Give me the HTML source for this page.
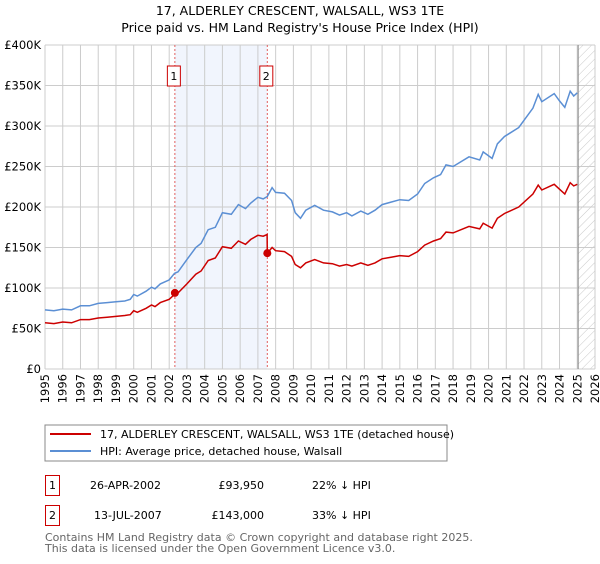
<!DOCTYPE html>
<html><head><meta charset="utf-8"><style>
body{margin:0;background:#fff;font-family:"DejaVu Sans","Liberation Sans",sans-serif;}
svg text{font-family:"DejaVu Sans","Liberation Sans",sans-serif;}
</style></head><body>
<svg id="chart" width="600" height="560" xmlns="http://www.w3.org/2000/svg">
<defs><pattern id="hatch" width="6" height="6" patternUnits="userSpaceOnUse" patternTransform="rotate(45)"><line x1="0" y1="0" x2="0" y2="6" stroke="#bbb" stroke-width="0.8"/></pattern></defs>
<text x="300" y="15" text-anchor="middle" font-size="12.5">17, ALDERLEY CRESCENT, WALSALL, WS3 1TE</text>
<text x="300" y="32" text-anchor="middle" font-size="12.5">Price paid vs. HM Land Registry's House Price Index (HPI)</text>
<g id="plot"></g>
<rect x="45" y="425" width="402" height="36" fill="none" stroke="#888"/>
<line x1="50" y1="434" x2="91" y2="434" stroke="#cc0000" stroke-width="2"/>
<text x="100" y="438" font-size="11">17, ALDERLEY CRESCENT, WALSALL, WS3 1TE (detached house)</text>
<line x1="50" y1="451" x2="91" y2="451" stroke="#5b8fd4" stroke-width="2"/>
<text x="100" y="455" font-size="11">HPI: Average price, detached house, Walsall</text>
<g>
<rect x="45.5" y="475.5" width="14" height="20" fill="none" stroke="#cc0000"/>
<text x="52.5" y="489" text-anchor="middle" font-size="11">1</text>
<text x="90" y="489" font-size="11">26-APR-2002</text>
<text x="264" y="489" text-anchor="end" font-size="11">£93,950</text>
<text x="312" y="489" font-size="11">22% ↓ HPI</text></g>
<g>
<rect x="45.5" y="505.5" width="14" height="20" fill="none" stroke="#cc0000"/>
<text x="52.5" y="519" text-anchor="middle" font-size="11">2</text>
<text x="94" y="519" font-size="11">13-JUL-2007</text>
<text x="264" y="519" text-anchor="end" font-size="11">£143,000</text>
<text x="312" y="519" font-size="11">33% ↓ HPI</text></g>
<text x="45" y="541" font-size="11" fill="#666">Contains HM Land Registry data © Crown copyright and database right 2025.</text>
<text x="45" y="552" font-size="11" fill="#666">This data is licensed under the Open Government Licence v3.0.</text>
</svg>
<script>
const hpiDates=[1995.0,1995.5,1996.0,1996.5,1997.0,1997.5,1998.0,1998.5,1999.0,1999.5,1999.8,2000.0,2000.2,2000.7,2001.0,2001.2,2001.5,2002.0,2002.3,2002.5,2003.0,2003.5,2003.8,2004.2,2004.6,2005.0,2005.5,2005.9,2006.3,2006.6,2007.0,2007.3,2007.53,2007.8,2008.0,2008.5,2008.9,2009.1,2009.4,2009.7,2010.2,2010.7,2011.2,2011.6,2012.0,2012.3,2012.8,2013.2,2013.6,2014.0,2014.5,2015.0,2015.5,2016.0,2016.4,2016.9,2017.3,2017.6,2018.0,2018.9,2019.5,2019.7,2020.2,2020.5,2020.9,2021.7,2022.5,2022.8,2023.0,2023.7,2024.0,2024.3,2024.6,2024.8,2025.0];
const hpiValues=[73,72,74,73,78,78,81,82,83,84,86,92,90,96,101,99,105,110,118,120,135,150,155,172,175,193,191,203,198,205,212,210,213,224,218,217,208,193,186,196,202,196,194,190,193,189,195,191,196,203,206,209,208,216,229,236,240,252,250,262,258,268,260,278,287,298,322,339,330,340,331,323,343,337,341];
const priceDates=[1995.0,1995.5,1996.0,1996.5,1997.0,1997.5,1998.0,1998.5,1999.0,1999.5,1999.8,2000.0,2000.2,2000.7,2001.0,2001.2,2001.5,2002.0,2002.3,2002.5,2003.0,2003.5,2003.8,2004.2,2004.6,2005.0,2005.5,2005.9,2006.3,2006.6,2007.0,2007.3,2007.52,2007.53,2007.8,2008.0,2008.5,2008.9,2009.1,2009.4,2009.7,2010.2,2010.7,2011.2,2011.6,2012.0,2012.3,2012.8,2013.2,2013.6,2014.0,2014.5,2015.0,2015.5,2016.0,2016.4,2016.9,2017.3,2017.6,2018.0,2018.9,2019.5,2019.7,2020.2,2020.5,2020.9,2021.7,2022.5,2022.8,2023.0,2023.7,2024.0,2024.3,2024.6,2024.8,2025.0];
const priceValues=[57,56,58,57,61,61,63,64,65,66,67,72,70,75,79,77,82,86,92,94,105,117,121,134,137,151,149,158,154,160,165,164,166,143,150,146,145,139,129,125,131,135,131,130,127,129,127,131,128,131,136,138,140,139,145,153,158,161,169,168,176,173,180,174,186,192,200,216,227,221,228,222,216,230,226,228];
const saleDates=[2002.32,2007.53];
const salePrices=[93.95,143];
const saleLabels=["1","2"];
const yTicks=[0,50,100,150,200,250,300,350,400];
const yTickLabels=["£0","£50K","£100K","£150K","£200K","£250K","£300K","£350K","£400K"];
const xTicks=[1995,1996,1997,1998,1999,2000,2001,2002,2003,2004,2005,2006,2007,2008,2009,2010,2011,2012,2013,2014,2015,2016,2017,2018,2019,2020,2021,2022,2023,2024,2025,2026];
const dataEnd=2025.05;

const L=45,R=595,T=45,B=369;
const xs=d=>L+(d-1995)/(2026-1995)*(R-L);
const ys=v=>B-v/400*(B-T);
const NS="http://www.w3.org/2000/svg";
const g=document.getElementById('plot');
function mk(tag,attrs){const e=document.createElementNS(NS,tag);for(const k in attrs)e.setAttribute(k,attrs[k]);g.appendChild(e);return e;}
let e;
e=mk('rect',{x:xs(saleDates[0]),y:T,width:xs(saleDates[1])-xs(saleDates[0]),height:B-T,fill:'#eef3fc',opacity:0.8});


e=mk('rect',{x:xs(dataEnd),y:T,width:R-xs(dataEnd),height:B-T,fill:'url(#hatch)'});


yTicks.forEach((v,i)=>{
  e=mk('line',{x1:L,x2:R,y1:ys(v),y2:ys(v),stroke:'#ccc','stroke-width':1});
  
  
  e=mk('text',{x:L-4,y:ys(v)+4,'text-anchor':'end','font-size':'11.5'});
  e.textContent=yTickLabels[i];
  
  
});
xTicks.forEach(d=>{
  e=mk('line',{x1:xs(d),x2:xs(d),y1:T,y2:B,stroke:'#ccc','stroke-width':1});
  
  
  e=mk('text',{x:0,y:0,'text-anchor':'end','font-size':'11.5',transform:`translate(${xs(d)+4},${B+5}) rotate(-90)`});
  e.textContent=d;
  
  
});
e=mk('line',{x1:xs(dataEnd),x2:xs(dataEnd),y1:T,y2:B,stroke:'#888','stroke-width':1});


saleDates.forEach((d,i)=>{
  e=mk('line',{x1:xs(d),x2:xs(d),y1:T,y2:B,stroke:'#e06060','stroke-width':1,'stroke-dasharray':'2,2'});
  
  
  e=mk('rect',{x:xs(d)-7.5,y:66,width:13,height:20,fill:'#fff',stroke:'#cc0000'});
  
  
  e=mk('text',{x:xs(d)-1,y:80,'text-anchor':'middle','font-size':'11'});
  e.textContent=saleLabels[i];
  
  
});
e=mk('path',{d:hpiDates.map((d,i)=>(i?'L':'M')+xs(d).toFixed(1)+','+ys(hpiValues[i]).toFixed(1)).join(''),fill:'none',stroke:'#5b8fd4','stroke-width':1.5});


e=mk('path',{d:priceDates.map((d,i)=>(i?'L':'M')+xs(d).toFixed(1)+','+ys(priceValues[i]).toFixed(1)).join(''),fill:'none',stroke:'#cc0000','stroke-width':1.5});


saleDates.forEach((d,i)=>{
  e=mk('circle',{cx:xs(d),cy:ys(salePrices[i]),r:4,fill:'#cc0000'});
  
  
});
</script>
</body></html>
